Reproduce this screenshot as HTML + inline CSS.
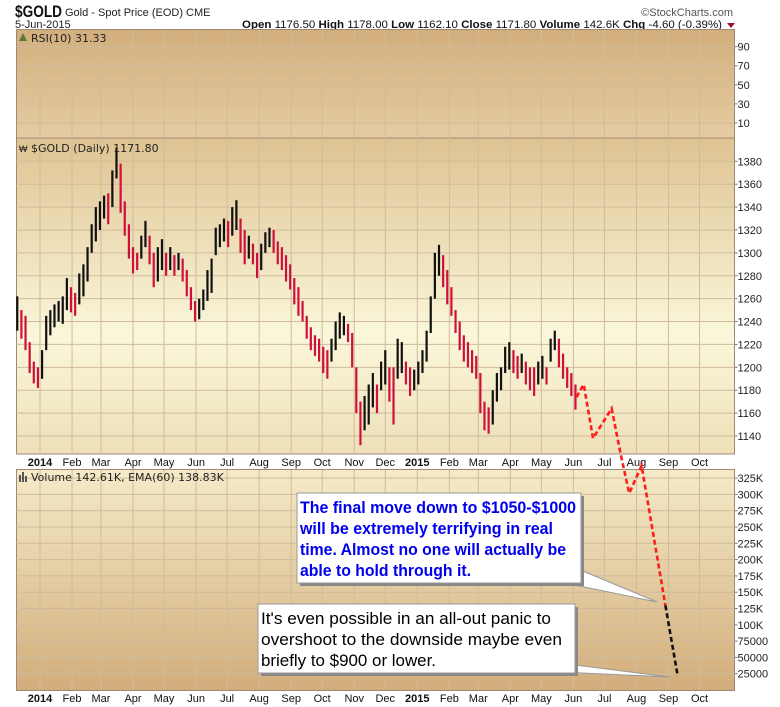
<!DOCTYPE html>
<html><head><meta charset="utf-8"><style>
html,body{margin:0;padding:0;background:#fff;}
svg{display:block;font-family:"Liberation Sans",sans-serif;}
</style></head><body>
<svg id="chart" width="780" height="707" viewBox="0 0 780 707" xmlns="http://www.w3.org/2000/svg">
<defs>
<linearGradient id="gRsi" x1="0" y1="0" x2="0" y2="1"><stop offset="0" stop-color="#d2ae7c"/><stop offset="1" stop-color="#e5cca2"/></linearGradient>
<linearGradient id="gPrice" x1="0" y1="0" x2="0" y2="1"><stop offset="0" stop-color="#dfc392"/><stop offset="0.62" stop-color="#faf7da"/><stop offset="1" stop-color="#eee0b8"/></linearGradient>
<linearGradient id="gVol" x1="0" y1="0" x2="0" y2="1"><stop offset="0" stop-color="#f5ebc8"/><stop offset="1" stop-color="#d2ad7b"/></linearGradient>
</defs>
<g>
<text x="15" y="17" font-size="17" font-weight="bold" fill="#111" textLength="47" lengthAdjust="spacingAndGlyphs">$GOLD</text>
<text x="65" y="16" font-size="11" fill="#222">Gold - Spot Price (EOD) CME</text>
<text x="733" y="16" font-size="11" fill="#555" text-anchor="end">©StockCharts.com</text>
<text x="15" y="28" font-size="11" fill="#222">5-Jun-2015</text>
<text x="722" y="28" font-size="11" fill="#111" text-anchor="end" textLength="480" lengthAdjust="spacingAndGlyphs"><tspan font-weight="bold">Open</tspan> 1176.50 <tspan font-weight="bold">High</tspan> 1178.00 <tspan font-weight="bold">Low</tspan> 1162.10 <tspan font-weight="bold">Close</tspan> 1171.80 <tspan font-weight="bold">Volume</tspan> 142.6K <tspan font-weight="bold">Chg</tspan> -4.60 (-0.39%)</text>
<path d="M727,23 L735,23 L731,28 Z" fill="#a0102a"/>
</g>
<rect x="16.5" y="29.5" width="718" height="108.5" fill="url(#gRsi)" stroke="#a08878"/>
<rect x="16.5" y="138" width="718" height="316" fill="url(#gPrice)" stroke="#a08878"/>
<rect x="16.5" y="469.5" width="718" height="221" fill="url(#gVol)" stroke="#a08878"/>
<g id="grid"></g>
<g id="axes"></g>
<g id="bars"></g>
<text x="31" y="42" font-size="11" font-family="DejaVu Sans,sans-serif" fill="#222">RSI(10) 31.33</text>
<path d="M19,41 L23,33 L27,41 Z" fill="#5a7a3a"/>
<text x="31" y="152" font-size="11" font-family="DejaVu Sans,sans-serif" fill="#222">$GOLD (Daily) 1171.80</text>
<text x="19" y="152" font-size="9" fill="#222">₩</text>
<text x="31" y="481" font-size="11" font-family="DejaVu Sans,sans-serif" fill="#222">Volume 142.61K, EMA(60) 138.83K</text>
<g fill="#555"><rect x="19" y="475" width="2" height="7"/><rect x="22" y="472" width="2" height="10"/><rect x="25" y="476" width="2" height="6"/></g>
<g id="proj"></g>
<g>
<path d="M560,582 L657,602 L578,569 Z" fill="#fff" stroke="#999"/>
<rect x="300" y="496" width="284" height="90" fill="#888"/>
<rect x="297" y="493" width="284" height="90" fill="#fff" stroke="#999"/>
<rect x="560" y="570" width="20" height="12" fill="#fff"/>
<g font-size="17" font-weight="bold" fill="#0000ee">
<text x="300" y="513" textLength="276" lengthAdjust="spacingAndGlyphs">The final move down to $1050-$1000</text>
<text x="300" y="534" textLength="253" lengthAdjust="spacingAndGlyphs">will be  extremely terrifying in real</text>
<text x="300" y="555" textLength="266" lengthAdjust="spacingAndGlyphs">time. Almost no one will actually be</text>
<text x="300" y="576" textLength="171" lengthAdjust="spacingAndGlyphs">able to hold through it.</text>
</g></g>
<g>
<path d="M560,672 L670,677 L575,665 Z" fill="#fff" stroke="#999"/>
<rect x="261" y="607" width="317" height="69" fill="#888"/>
<rect x="258" y="604" width="317" height="69" fill="#fff" stroke="#999"/>
<rect x="560" y="663" width="14" height="9" fill="#fff"/>
<g font-size="17" fill="#000">
<text x="261" y="624" textLength="290" lengthAdjust="spacingAndGlyphs">It's even possible in an all-out panic to</text>
<text x="261" y="645" textLength="301" lengthAdjust="spacingAndGlyphs">overshoot to the downside maybe even</text>
<text x="261" y="666" textLength="175" lengthAdjust="spacingAndGlyphs">briefly to $900 or lower.</text>
</g></g>
</svg>
<script>
const monthLabels = ["2014","Feb","Mar","Apr","May","Jun","Jul","Aug","Sep","Oct","Nov","Dec","2015","Feb","Mar","Apr","May","Jun","Jul","Aug","Sep","Oct"];
const monthDays = [0,31,59,90,120,151,181,212,243,273,304,334,365,396,424,455,485,516,546,577,608,638];
const priceTicks = [1140,1160,1180,1200,1220,1240,1260,1280,1300,1320,1340,1360,1380];
const rsiTicks = [90,70,50,30,10];
const volTicks = [325000,300000,275000,250000,225000,200000,175000,150000,125000,100000,75000,50000,25000];
const volTickLabels = ["325K","300K","275K","250K","225K","200K","175K","150K","125K","100K","75000","50000","25000"];
const barStartDay = -22;
const barStepDays = 4;
const barLows = [1232,1225,1215,1195,1186,1182,1190,1215,1228,1235,1240,1238,1250,1248,1245,1255,1262,1275,1300,1310,1320,1330,1325,1340,1365,1335,1315,1295,1282,1285,1295,1305,1290,1270,1275,1285,1280,1285,1280,1285,1275,1262,1250,1240,1242,1250,1258,1265,1298,1305,1310,1305,1315,1320,1300,1290,1295,1290,1278,1285,1300,1305,1300,1290,1285,1275,1268,1255,1245,1240,1225,1215,1210,1205,1195,1190,1205,1215,1225,1228,1222,1200,1160,1132,1145,1150,1165,1160,1180,1185,1170,1150,1190,1195,1185,1175,1180,1185,1195,1205,1230,1260,1280,1270,1255,1245,1230,1215,1205,1200,1195,1190,1160,1145,1142,1150,1170,1180,1195,1198,1195,1190,1195,1185,1180,1175,1185,1190,1185,1205,1215,1200,1190,1182,1175,1163];
const barHighs = [1262,1250,1245,1222,1205,1200,1215,1245,1250,1255,1258,1262,1278,1270,1265,1282,1290,1305,1325,1340,1345,1350,1352,1372,1392,1378,1345,1325,1305,1300,1315,1328,1315,1300,1305,1312,1300,1305,1298,1300,1295,1285,1270,1258,1260,1268,1285,1295,1322,1325,1330,1328,1340,1346,1330,1320,1315,1308,1300,1308,1318,1322,1320,1310,1305,1298,1290,1278,1270,1258,1245,1235,1228,1225,1218,1215,1225,1240,1248,1245,1238,1230,1200,1170,1175,1185,1195,1185,1205,1215,1200,1200,1225,1222,1205,1200,1198,1205,1215,1232,1262,1300,1307,1298,1285,1270,1250,1240,1228,1222,1215,1210,1195,1170,1165,1180,1195,1200,1218,1222,1215,1210,1212,1205,1200,1200,1205,1210,1200,1225,1232,1225,1212,1200,1195,1185];
const projRedDays = [519,526,535,553,562,570,582,605];
const projRedPrices = [1174,1185,1138,1164,1123,1090,1114,992];
const projBlackDays = [605,617];
const projBlackPrices = [992,930];

const NS = "http://www.w3.org/2000/svg";
const L = 16.5, R = 734.5;
const xDay = d => 40 + d * 1.0337;
const yPrice = p => 161.3 + (1380 - p) * 1.1446;
const yRsi = v => 132.5 - v * 0.954;
const yVol = v => 690 - v / 25000 * 16.3;
function mk(tag, parent, attrs) { const e = document.createElementNS(NS, tag); for (const k in attrs) e.setAttribute(k, attrs[k]); parent.appendChild(e); return e; }
const grid = document.getElementById('grid'), axes = document.getElementById('axes'), bars = document.getElementById('bars'), proj = document.getElementById('proj');
const gc = "#cfbb9c";
monthDays.forEach((d, i) => {
  const x = xDay(d);
  [[30,138],[138,454],[470,690]].forEach(([a,b]) => {
    const ln = mk('line', grid, {x1:x, x2:x, y1:a, y2:b, stroke:gc, 'stroke-width':1});
    
    
  });
  [466, 702].forEach(yy => {
    const t = mk('text', axes, {x:x, y:yy, 'font-size':11, 'text-anchor':'middle', fill:'#111', 'font-weight': (monthLabels[i].length===4?'bold':'normal')});
    t.textContent = monthLabels[i];
    
    
  });
});
function hTicks(ticks, labels, yf) {
  ticks.forEach((v, i) => {
    const y = yf(v);
    const ln = mk('line', grid, {x1:L, x2:R, y1:y, y2:y, stroke:gc, 'stroke-width':1});
    
    
    mk('line', axes, {x1:R, x2:R+3, y1:y, y2:y, stroke:'#777'});
    const t = mk('text', axes, {x:R+3, y:y+4, 'font-size':11, fill:'#222'});
    t.textContent = labels[i];
    
    
  });
}
hTicks(priceTicks, priceTicks.map(String), yPrice);
hTicks(rsiTicks, rsiTicks.map(String), yRsi);
hTicks(volTicks, volTickLabels, yVol);
barLows.forEach((lo, i) => {
  const hi = barHighs[i];
  const mid = (lo + hi) / 2, prev = i ? (barLows[i-1] + barHighs[i-1]) / 2 : mid;
  const x = xDay(barStartDay + i * barStepDays);
  const col = mid >= prev ? '#111' : '#d0103a';
  const r = mk('rect', bars, {x:x-1.1, y:yPrice(hi), width:2.2, height:Math.max(1, yPrice(lo)-yPrice(hi)), fill: col});
  
  
});
function pl(days, prices, color, name) {
  const pts = days.map((d, i) => xDay(d) + ',' + yPrice(prices[i])).join(' ');
  const p = mk('polyline', proj, {points:pts, fill:'none', stroke:color, 'stroke-width':2.6, 'stroke-dasharray':'5 3'});
  
  
}
pl(projRedDays, projRedPrices, '#ff1c1c', 'projection-red');
pl(projBlackDays, projBlackPrices, '#111', 'projection-black');
</script>
</body></html>
